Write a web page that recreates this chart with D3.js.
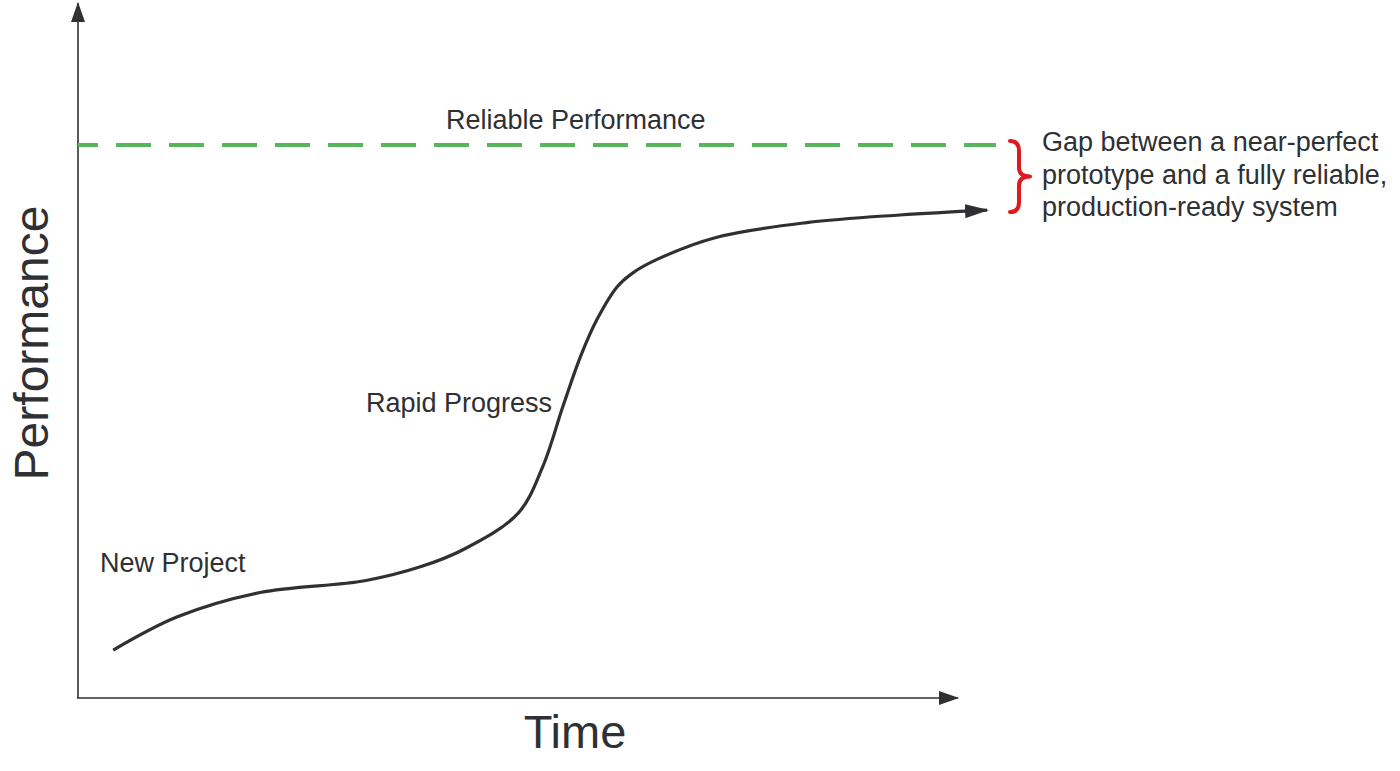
<!DOCTYPE html>
<html>
<head>
<meta charset="utf-8">
<script src="https://cdn.jsdelivr.net/npm/d3@7"></script>
<style>
  html, body { margin: 0; padding: 0; background: #ffffff; }
  svg { display: block; }
  text { font-family: "Liberation Sans", Arial, sans-serif; fill: #2f3033; }
</style>
</head>
<body>
<svg id="chart" width="1400" height="771"></svg>
<script>
// ---- data (conceptual units: time 0..100, performance 0..100) ----
const timeValues = [4.0, 11.3, 20.7, 32.6, 38.9, 43.8, 50.0, 52.8, 55.1, 57.1, 59.0, 61.3, 63.1, 65.8, 72.6, 82.8, 93.4, 103.3];
const performanceValues = [6.9, 11.7, 15.2, 16.9, 18.9, 21.4, 26.6, 33.3, 42.0, 49.2, 54.6, 59.3, 61.3, 63.2, 66.4, 68.5, 69.6, 70.3];
const reliableLevel = [79.7];
const axisTitles = ["Time", "Performance"];
const phaseLabels = ["New Project", "Rapid Progress", "Reliable Performance"];
const gapLabelLines = ["Gap between a near-perfect", "prototype and a fully reliable,", "production-ready system"];

// ---- layout ----
const svg = d3.select("#chart");
const x = d3.scaleLinear().domain([0, 100]).range([78, 958]);
const y = d3.scaleLinear().domain([0, 100]).range([698, 4]);

const axisColor = "#2f3033";
const defs = svg.append("defs");
function arrowMarker(id, len, half, color, refX) {
  defs.append("marker")
    .attr("id", id)
    .attr("markerUnits", "userSpaceOnUse")
    .attr("viewBox", `0 0 ${len} ${half * 2}`)
    .attr("markerWidth", len).attr("markerHeight", half * 2)
    .attr("refX", refX).attr("refY", half)
    .attr("orient", "auto")
    .append("path")
    .attr("d", `M0,0 L${len},${half} L0,${half * 2} Z`)
    .attr("fill", color);
}
arrowMarker("axisArrow", 20, 7, axisColor, 19);
arrowMarker("curveArrow", 24, 7, axisColor, 22);

// axes
svg.append("line")
  .attr("x1", x(0)).attr("y1", y(0))
  .attr("x2", x(0)).attr("y2", y(100) - 1)
  .attr("stroke", axisColor).attr("stroke-width", 1.6)
  .attr("marker-end", "url(#axisArrow)");
svg.append("line")
  .attr("x1", x(0) - 1).attr("y1", y(0))
  .attr("x2", x(100)).attr("y2", y(0))
  .attr("stroke", axisColor).attr("stroke-width", 1.6)
  .attr("marker-end", "url(#axisArrow)");

// reliable performance dashed line
svg.append("line")
  .attr("x1", x(0)).attr("x2", 996)
  .attr("y1", y(reliableLevel[0])).attr("y2", y(reliableLevel[0]))
  .attr("stroke", "#56b75a").attr("stroke-width", 4)
  .attr("stroke-dasharray", "35,18")
  .attr("stroke-dashoffset", 15);

// performance curve
const pts = timeValues.map((t, i) => [t, performanceValues[i]]);
const line = d3.line().x(d => x(d[0])).y(d => y(d[1])).curve(d3.curveCatmullRom.alpha(0.5));
svg.append("path")
  .datum(pts)
  .attr("d", line)
  .attr("fill", "none")
  .attr("stroke", axisColor)
  .attr("stroke-width", 3.2)
  .attr("marker-end", "url(#curveArrow)");

// red brace between reliable level and curve end
const bTop = y(reliableLevel[0]) - 4;
const bBot = y(performanceValues[performanceValues.length - 1]) + 2;
const bMid = (bTop + bBot) / 2;
const bx = 1010;
const braceD = `M${bx},${bTop} Q${bx + 9},${bTop} ${bx + 9},${bTop + 10}
  L${bx + 9},${bMid - 9} Q${bx + 9},${bMid} ${bx + 20},${bMid}
  Q${bx + 9},${bMid} ${bx + 9},${bMid + 9}
  L${bx + 9},${bBot - 10} Q${bx + 9},${bBot} ${bx},${bBot}`;
svg.append("path")
  .attr("d", braceD)
  .attr("fill", "none")
  .attr("stroke", "#dc1a1f")
  .attr("stroke-width", 4)
  .attr("stroke-linecap", "round")
  .attr("stroke-linejoin", "round");

// labels
const labelSize = 27;
svg.append("text").attr("x", 100).attr("y", 572).attr("font-size", labelSize).text(phaseLabels[0]);
svg.append("text").attr("x", 366).attr("y", 412).attr("font-size", labelSize).text(phaseLabels[1]);
svg.append("text").attr("x", 446).attr("y", 129).attr("font-size", labelSize).text(phaseLabels[2]);

const gap = svg.append("text").attr("x", 1042).attr("y", 151).attr("font-size", labelSize);
gapLabelLines.forEach((s, i) => {
  gap.append("tspan").attr("x", 1042).attr("dy", i === 0 ? 0 : 32.5).text(s);
});

// axis titles
svg.append("text")
  .attr("x", 575).attr("y", 748)
  .attr("text-anchor", "middle")
  .attr("font-size", 47)
  .text(axisTitles[0]);
svg.append("text")
  .attr("transform", "translate(48,343) rotate(-90)")
  .attr("text-anchor", "middle")
  .attr("font-size", 48)
  .text(axisTitles[1]);
</script>
</body>
</html>
